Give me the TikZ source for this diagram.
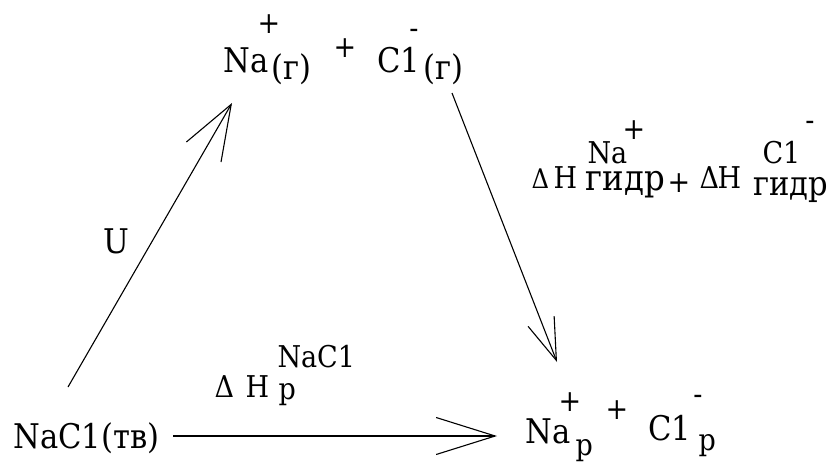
\documentclass[tikz,border=0pt]{standalone}
\usepackage{fontspec}
\setmainfont{DejaVu Serif Condensed}
\newfontfamily\rusf{DejaVu Serif Condensed}
\usetikzlibrary{arrows.meta}

\newcommand{\fgr}{\rusf\fontsize{34}{38}\selectfont}
\newcommand{\fme}{\rusf\fontsize{30}{34}\selectfont}
\newcommand{\fgi}{\rusf\fontsize{36}{40}\selectfont}
\newcommand{\fpq}{\rusf\fontsize{27}{30}\selectfont}

\begin{document}
\begin{tikzpicture}[x=1pt, y=-1pt, line width=1.1pt,
    txt/.style={inner sep=0pt, anchor=base west, font=\fgr},
    txtm/.style={inner sep=0pt, anchor=base west, font=\fme},
    carga/.style={inner sep=0pt, font=\fme},
    seta/.style 2 args={-{Straight Barb[length=#1, width=#2]}}]
    \useasboundingbox (0,0) rectangle (831,464);

    % Ions no estado gasoso
    \node[txt] (na) at (223,72) {Na};
    \node[carga] (naq) at (269,24) {+};
    \node[txt] (nag) at (271,79) {(г)};
    \node[carga] (mais1) at (345,48) {+};
    \node[txt] (cl) at (377,72) {C1};
    \node[carga] (clq) at (414,34) {-};
    \node[txt] (clg) at (423,79) {(г)};

    % Entalpias de hidratacao
    \node[txtm] (hna) at (587,163) {Na};
    \node[carga] (hnaq) at (634,130) {+};
    \node[txtm] (hcl) at (762,163) {C1};
    \node[carga] (hclq) at (810,126) {-};
    \node[inner sep=0pt, anchor=base west, font=\fpq] (d1) at (531,188) {Δ};
    \node[txtm] (h1) at (553,188) {H};
    \node[inner sep=0pt, anchor=base west, font=\fgi] (g1) at (585,190) {гидр};
    \node[carga] (mais2) at (679,183) {+};
    \node[inner sep=0pt, anchor=base west, font=\fme] (d2) at (699,188) {Δ};
    \node[txtm] (h2) at (717,188) {H};
    \node[txt] (g2) at (753,195) {гидр};

    % Rede cristalina
    \node[txt] (u) at (103,253) {U};
    \node[txt] (tv) at (13,448) {NaC1(тв)};

    % Entalpia de dissolucao
    \node[inner sep=0pt, anchor=base west, font=\fme] (d3) at (214,397) {Δ};
    \node[txtm] (h3) at (245,397) {H};
    \node[txtm] (p3) at (278,399) {р};
    \node[txtm] (nacl) at (277,367) {NaC1};

    % Ions em solucao
    \node[txt] (nap) at (525,443) {Na};
    \node[carga] (napq) at (570,402) {+};
    \node[txtm] (pna) at (575,455) {р};
    \node[carga] (mais3) at (617,410) {+};
    \node[txt] (clp) at (648,440) {C1};
    \node[carga] (clpq) at (698,400) {-};
    \node[txtm] (pcl) at (698,450) {р};

    % Setas
    \coordinate (u0) at (68,387);
    \coordinate (u1) at (232,103);
    \coordinate (g0) at (452,93);
    \coordinate (g1e) at (557,362);
    \coordinate (s0) at (173,436);
    \coordinate (s1) at (497,436);
    \draw[seta={55pt}{40pt}] (u0) -- (u1);
    \draw[seta={42pt}{28pt}] (g0) -- (g1e);
    \draw[seta={59pt}{37pt}] (s0) -- (s1);
\end{tikzpicture}
\end{document}
